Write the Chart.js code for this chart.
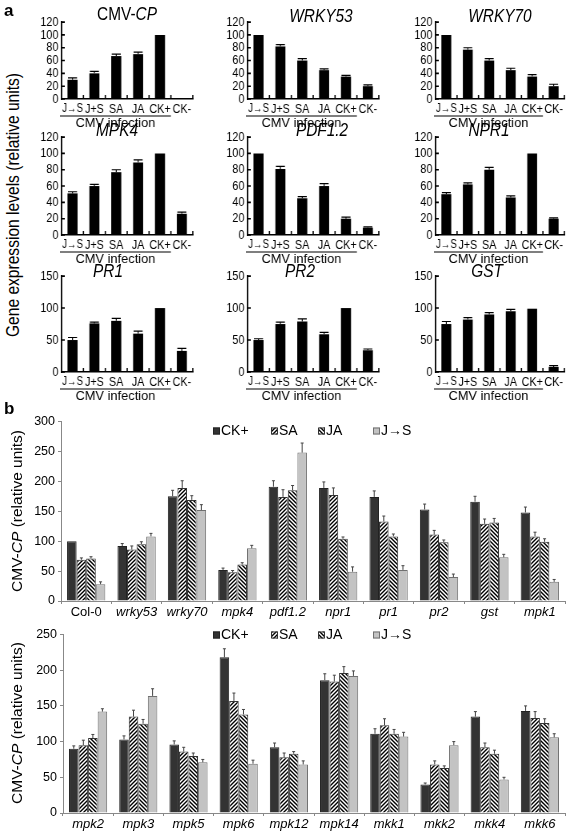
<!DOCTYPE html>
<html><head><meta charset="utf-8">
<script src="https://cdn.jsdelivr.net/npm/chart.js@4.4.1/dist/chart.umd.min.js"></script>
<style>
html,body{margin:0;padding:0;background:#fff;}
body{width:567px;height:833px;position:relative;overflow:hidden;font-family:'Liberation Sans',Arial,sans-serif;color:#000;}
canvas{position:absolute;}
.t{position:absolute;white-space:nowrap;line-height:1;}
.ttl{font-size:17.5px;transform:translate(-50%,-50%) scaleX(0.88);}
.yl{transform:translate(-50%,-50%) rotate(-90deg);}
</style></head><body>
<script>
// ---------- DATA ----------
const groupsA = ['J→S','J+S','SA','JA','CK+','CK-'];
const cmvCP   = [30, 40, 67, 70, 100, 0];   const cmvCPErr   = [3, 3, 3, 3, 0, 0];
const wrky53  = [100, 82, 60, 45, 35, 20];  const wrky53Err  = [0, 3, 3, 2, 2, 2];
const wrky70  = [100, 77, 60, 45, 35, 20];  const wrky70Err  = [0, 3, 3, 3, 3, 3];
const mpk4    = [51, 60, 77, 89, 100, 26];  const mpk4Err    = [2, 2, 3, 3, 0, 2];
const pdf12   = [100, 81, 45, 60, 20, 9];   const pdf12Err   = [0, 3, 2, 3, 2, 1];
const npr1    = [50, 62, 80, 46, 100, 20];  const npr1Err    = [2, 2, 3, 2, 0, 1];
const pr1     = [50, 76, 80, 60, 100, 33];  const pr1Err     = [4, 2, 4, 4, 0, 4];
const pr2     = [50, 75, 79, 59, 100, 34];  const pr2Err     = [2, 3, 4, 3, 0, 2];
const gst     = [75, 82, 90, 95, 99, 8];    const gstErr     = [4, 3, 3, 3, 0, 2];
const ticks120 = [0, 20, 40, 60, 80, 100, 120];
const ticks150 = [0, 50, 100, 150];

const seriesB = ['CK+', 'SA', 'JA', 'J→S'];
const genesB1 = ['Col-0','wrky53','wrky70','mpk4','pdf1.2','npr1','pr1','pr2','gst','mpk1'];
const ckPlus1 = [100, 92, 175, 52, 191, 189, 174, 153, 166, 148];
const sa1     = [69, 86, 189, 48, 174, 177, 133, 111, 129, 108];
const ja1     = [71, 95, 169, 61, 185, 104, 108, 98, 131, 99];
const js1     = [28, 108, 152, 88, 248, 49, 52, 40, 73, 32];
const ckPlus1Err = [0, 4, 10, 3, 10, 10, 10, 9, 9, 9];
const sa1Err     = [3, 6, 12, 3, 12, 12, 9, 7, 8, 7];
const ja1Err     = [3, 4, 7, 3, 8, 3, 4, 4, 7, 5];
const js1Err     = [4, 5, 9, 5, 16, 8, 7, 5, 5, 4];

const genesB2 = ['mpk2','mpk3','mpk5','mpk6','mpk12','mpk14','mkk1','mkk2','mkk4','mkk6'];
const ckPlus2 = [90, 103, 96, 218, 92, 186, 111, 40, 135, 143];
const sa2     = [95, 135, 86, 157, 78, 184, 123, 68, 92, 133];
const ja2     = [105, 125, 80, 138, 83, 196, 111, 63, 83, 126];
const js2     = [142, 164, 71, 69, 68, 192, 107, 95, 47, 106];
const ckPlus2Err = [4, 5, 5, 12, 6, 9, 7, 2, 7, 7];
const sa2Err     = [7, 9, 6, 11, 6, 9, 9, 5, 6, 9];
const ja2Err     = [5, 6, 4, 7, 3, 9, 6, 3, 5, 6];
const js2Err     = [4, 10, 4, 5, 5, 7, 6, 5, 3, 5];
const ticksB1 = [0, 50, 100, 150, 200, 250, 300];
const ticksB2 = [0, 50, 100, 150, 200, 250];

// ---------- STYLE ----------
const FB = "'Liberation Sans',Arial,sans-serif";
const K = 0.8; // horizontal condensing of panel a (the original art is condensed)

function hatch(dir){
  const s=4, c=document.createElement('canvas'); c.width=c.height=s;
  const g=c.getContext('2d'); g.fillStyle='#fff'; g.fillRect(0,0,s,s);
  g.strokeStyle='#000'; g.lineWidth=1.4; g.beginPath();
  if(dir>0){ g.moveTo(-1,s+1); g.lineTo(s+1,-1); g.moveTo(-1,1); g.lineTo(1,-1); g.moveTo(s-1,s+1); g.lineTo(s+1,s-1); }
  else { g.moveTo(-1,-1); g.lineTo(s+1,s+1); g.moveTo(s-1,-1); g.lineTo(s+1,1); g.moveTo(-1,s-1); g.lineTo(1,s+1); }
  g.stroke();
  return g.createPattern(c,'repeat');
}
const patSA = hatch(1), patJA = hatch(-1);

// ---------- PLUGINS ----------
const errorBars = {
  id:'errorBars',
  afterDatasetsDraw(chart, args, o){
    const ctx=chart.ctx, ys=chart.scales.y;
    chart.data.datasets.forEach((ds,di)=>{
      if(!ds.errors) return;
      chart.getDatasetMeta(di).data.forEach((bar,i)=>{
        const e=ds.errors[i]; if(!e) return;
        const top=ys.getPixelForValue(ds.data[i]+e);
        const c = o.capRatio ? bar.width*o.capRatio/2 : o.cap;
        ctx.save(); ctx.strokeStyle=o.color; ctx.lineWidth=o.width;
        ctx.beginPath(); ctx.moveTo(bar.x, bar.y); ctx.lineTo(bar.x, top);
        ctx.moveTo(bar.x-c, top); ctx.lineTo(bar.x+c, top); ctx.stroke(); ctx.restore();
      });
    });
  }
};
const innerTicks = {
  id:'innerTicks',
  afterDraw(chart){
    const ctx=chart.ctx, a=chart.chartArea, ys=chart.scales.y;
    const n=chart.data.labels.length, w=(a.right-a.left)/n;
    ctx.save(); ctx.strokeStyle='#000'; ctx.lineWidth=1.6; ctx.beginPath();
    for(let i=1;i<=n;i++){ const x=a.left+i*w; ctx.moveTo(x,a.bottom); ctx.lineTo(x,a.bottom-4); }
    ys.ticks.forEach(t=>{ const y=ys.getPixelForValue(t.value); ctx.moveTo(a.left,y); ctx.lineTo(a.left+4,y); });
    ctx.stroke(); ctx.restore();
  }
};
const cmvLine = {
  id:'cmvLine',
  afterDraw(chart, args, o){
    const ctx=chart.ctx, a=chart.chartArea, xs=chart.scales.x;
    const n=chart.data.labels.length, w=(a.right-a.left)/n;
    const x0=a.left-2, x1=xs.getPixelForValue(4)+w/2;
    const y=a.bottom+o.lineOff;
    ctx.save(); ctx.strokeStyle='#000'; ctx.lineWidth=1.2;
    ctx.beginPath(); ctx.moveTo(x0,y); ctx.lineTo(x1,y); ctx.stroke();
    ctx.translate((x0+x1)/2, y+o.textOff); ctx.scale(0.95/K,1);
    ctx.fillStyle='#000'; ctx.font='13.5px '+FB; ctx.textAlign='center'; ctx.textBaseline='middle';
    ctx.fillText(o.text,0,0); ctx.restore();
  }
};
const boxLegend = {
  id:'boxLegend',
  afterDraw(chart, args, o){
    const ctx=chart.ctx;
    ctx.save(); ctx.font='14px '+FB; ctx.textBaseline='middle';
    chart.data.datasets.forEach((ds,i)=>{
      const x=o.xs[i], y=o.y;
      ctx.fillStyle=ds.backgroundColor; ctx.fillRect(x,y-3.5,7,7);
      ctx.strokeStyle=ds.borderColor; ctx.lineWidth=1; ctx.strokeRect(x+0.5,y-3,6,6);
      ctx.fillStyle='#000'; ctx.fillText(ds.label,x+8,y+0.5);
    });
    ctx.restore();
  }
};

// ---------- HELPERS ----------
function addCanvas(l,t,w,h,k){
  const c=document.createElement('canvas'); c.width=w; c.height=h;
  c.style.left=l+'px'; c.style.top=t+'px'; c.style.width=w+'px'; c.style.height=h+'px';
  if(k){ c.style.transformOrigin='0 0'; c.style.transform='scaleX('+k+')'; }
  document.body.appendChild(c); return c;
}
function addText(html,x,y,cls,style){
  const d=document.createElement('div'); d.className='t '+cls; d.innerHTML=html;
  d.style.left=x+'px'; d.style.top=y+'px'; if(style) d.style.cssText+=style;
  document.body.appendChild(d); return d;
}

function smallChart(box, values, errs, tickVals){
  const mL=32, mT=8, mR=8, mB=38;
  const W=Math.round((box.r-box.l)/K)+mL+mR;
  const c=addCanvas(box.l-mL*K, box.t-mT, W, box.b-box.t+mT+mB, K);
  new Chart(c,{
    type:'bar',
    data:{labels:groupsA, datasets:[{data:values, errors:errs, backgroundColor:'#000', barPercentage:0.46, categoryPercentage:1}]},
    plugins:[errorBars, innerTicks, cmvLine],
    options:{
      responsive:false, animation:false, devicePixelRatio:1,
      layout:{padding:{top:mT,right:mR,left:0,bottom:0}},
      plugins:{legend:{display:false}, tooltip:{enabled:false},
        errorBars:{color:'#000', width:1.2, capRatio:0.9},
        cmvLine:{lineOff:17, textOff:7.5, text:'CMV infection'}},
      scales:{
        x:{offset:true, grid:{display:false, drawTicks:false, tickLength:0}, border:{display:true,color:'#000',width:1.5},
           ticks:{font:(ctx)=>({family:FB,size:(ctx.index===0?12:13.5)}), color:'#000', autoSkip:false, maxRotation:0, minRotation:0, padding:2},
           afterFit:s=>{s.height=mB;}},
        y:{min:0, max:tickVals[tickVals.length-1], grid:{display:false, drawTicks:false, tickLength:0}, border:{display:true,color:'#000',width:1.8},
           afterBuildTicks:s=>{s.ticks=tickVals.map(v=>({value:v}));},
           ticks:{font:{family:FB,size:13.5}, color:'#000', padding:4, autoSkip:false},
           afterFit:s=>{s.width=mL;}}
      }
    }
  });
}

function bigChart(top, height, box, labels, d, tickVals, legendY){
  const c=addCanvas(0, top, 567, height);
  const mL=box.l, mT=box.t-top, mR=567-box.r, mB=top+height-box.b;
  new Chart(c,{
    type:'bar',
    data:{labels:labels, datasets:[
      {label:seriesB[0], data:d[0], errors:d[4], backgroundColor:'#333', borderColor:'#222', borderWidth:1},
      {label:seriesB[1], data:d[1], errors:d[5], backgroundColor:patSA, borderColor:'#333', borderWidth:1},
      {label:seriesB[2], data:d[2], errors:d[6], backgroundColor:patJA, borderColor:'#333', borderWidth:1},
      {label:seriesB[3], data:d[3], errors:d[7], backgroundColor:'#c3c3c3', borderColor:'#707070', borderWidth:1}
    ]},
    plugins:[errorBars, boxLegend],
    options:{
      responsive:false, animation:false, devicePixelRatio:1,
      datasets:{bar:{barPercentage:1, categoryPercentage:0.76}},
      layout:{padding:{top:mT,right:mR,left:0,bottom:0}},
      plugins:{legend:{display:false}, tooltip:{enabled:false},
        errorBars:{color:'#444', width:1, cap:1.5},
        boxLegend:{y:legendY-top, xs:[213,271,318,373]}},
      scales:{
        x:{offset:true, grid:{offset:true, drawOnChartArea:false, drawTicks:true, tickLength:3, color:'#888'},
           border:{display:true,color:'#888',width:1},
           ticks:{font:(ctx)=>({family:FB,size:13,style:(labels[ctx.index]==='Col-0'?'normal':'italic')}), color:'#000', autoSkip:false, maxRotation:0, padding:1},
           afterFit:s=>{s.height=mB;}},
        y:{min:0, max:tickVals[tickVals.length-1], grid:{drawOnChartArea:false, drawTicks:true, tickLength:3, color:'#888'},
           border:{display:true,color:'#888',width:1},
           afterBuildTicks:s=>{s.ticks=tickVals.map(v=>({value:v}));},
           ticks:{font:{family:FB,size:12.5}, color:'#000', padding:3, autoSkip:false},
           afterFit:s=>{s.width=mL;}}
      }
    }
  });
}

// ---------- PANEL a ----------
const cols=[{l:62,r:193},{l:248,r:379},{l:436,r:565}];
const rows=[{t:18,b:99},{t:133,b:235},{t:272,b:372}];
const panelA=[
  [cmvCP,cmvCPErr,ticks120,'CMV-<i>CP</i>',127,15],
  [wrky53,wrky53Err,ticks120,'<i>WRKY53</i>',321,17],
  [wrky70,wrky70Err,ticks120,'<i>WRKY70</i>',500,17],
  [mpk4,mpk4Err,ticks120,'<i>MPK4</i>',117,131],
  [pdf12,pdf12Err,ticks120,'<i>PDF1.2</i>',322,131],
  [npr1,npr1Err,ticks120,'<i>NPR1</i>',489,131],
  [pr1,pr1Err,ticks150,'<i>PR1</i>',108,272],
  [pr2,pr2Err,ticks150,'<i>PR2</i>',300,272],
  [gst,gstErr,ticks150,'<i>GST</i>',487,272]
];
panelA.forEach((p,i)=>{
  const r=rows[Math.floor(i/3)], c=cols[i%3];
  smallChart({l:c.l,r:c.r,t:r.t,b:r.b}, p[0], p[1], p[2]);
  addText(p[3], p[4], p[5], 'ttl', '');
});
addText('a', 4, 2, '', 'font-weight:bold;font-size:17px;');
addText('Gene expression levels (relative units)', 14, 205, 'yl', 'font-size:17.5px;transform:translate(-50%,-50%) rotate(-90deg) scaleX(0.89);');

// ---------- PANEL b ----------
addText('b', 4, 400, '', 'font-weight:bold;font-size:17px;');
bigChart(411, 213, {l:61,r:565,t:421,b:601}, genesB1,
  [ckPlus1,sa1,ja1,js1,ckPlus1Err,sa1Err,ja1Err,js1Err], ticksB1, 431);
bigChart(624, 209, {l:63,r:565,t:633,b:813}, genesB2,
  [ckPlus2,sa2,ja2,js2,ckPlus2Err,sa2Err,ja2Err,js2Err], ticksB2, 635);
addText('CMV-<i>CP</i> (relative units)', 17, 511, 'yl', 'font-size:15.5px;');
addText('CMV-<i>CP</i> (relative units)', 17, 723, 'yl', 'font-size:15.5px;');
</script>
</body></html>
